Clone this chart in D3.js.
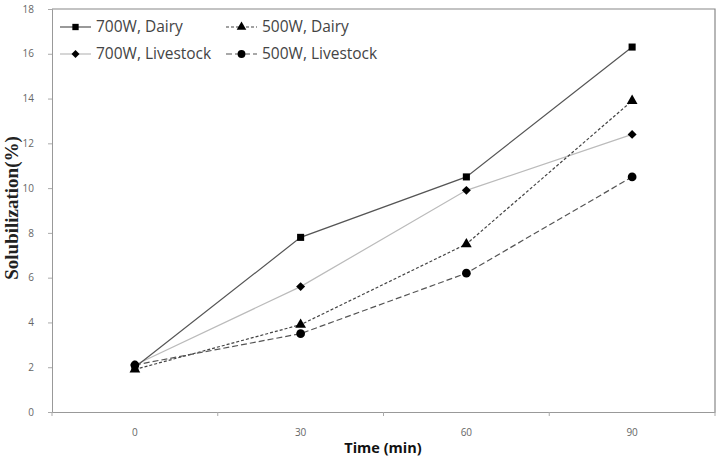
<!DOCTYPE html>
<html>
<head>
<meta charset="utf-8">
<script src="https://cdn.jsdelivr.net/npm/d3@7"></script>
<style>
body { margin: 0; background: #fff; }
</style>
</head>
<body>
<div class="chart"></div>
<script>
var width = 721
var height = 456

var times = ['0', '30', '60', '90']
var yTicks = [0, 2, 4, 6, 8, 10, 12, 14, 16, 18]
var seriesNames = ['700W, Dairy', '500W, Dairy', '700W, Livestock', '500W, Livestock']
var dairy700 = [2.0, 7.8, 10.5, 16.3]
var dairy500 = [1.9, 3.9, 7.5, 13.9]
var livestock700 = [2.1, 5.6, 9.9, 12.4]
var livestock500 = [2.1, 3.5, 6.2, 10.5]

var styles = [
    { color: '#555', dash: null, width: 1.2, symbol: d3.symbolSquare, size: 50, rot: 0 },
    { color: '#444', dash: '3,2', width: 1.2, symbol: d3.symbolTriangle, size: 50, rot: 0 },
    { color: '#bbb', dash: null, width: 1.2, symbol: d3.symbolSquare, size: 40, rot: 45 },
    { color: '#555', dash: '6,3', width: 1.2, symbol: d3.symbolCircle, size: 60, rot: 0 }
]
var allSeries = [dairy700, dairy500, livestock700, livestock500]

var margin = { left: 52, right: 6, top: 9, bottom: 44 }

var svg = d3.select('.chart').append('svg')
    .attr('width', width)
    .attr('height', height)

var x = d3.scaleBand().domain(times).range([margin.left, width - margin.right])
var y = d3.scaleLinear().domain([0, 18]).range([height - margin.bottom, margin.top])

// frame: top and right
svg.append('path')
    .attr('d', 'M' + margin.left + ',' + y(18) + 'H' + (width - margin.right) + 'V' + y(0))
    .attr('fill', 'none')
    .attr('stroke', '#888')
    .attr('stroke-width', 1.2)

var yAxis = svg.append('g')
    .attr('transform', 'translate(' + margin.left + ',0)')
    .call(d3.axisLeft(y).tickValues(yTicks).tickSize(4).tickPadding(14))
yAxis.select('.domain').attr('stroke', '#999')
yAxis.selectAll('.tick line').attr('stroke', '#aaa')
yAxis.selectAll('text').attr('fill', '#666').style('font-family', 'Open Sans').style('font-size', '10px')

// x axis with ticks at band boundaries
var xAxis = svg.append('g')
    .attr('transform', 'translate(0,' + y(0) + ')')
    .call(d3.axisBottom(x).tickSize(0).tickPadding(17))
xAxis.select('.domain').attr('stroke', '#999')
xAxis.selectAll('text').attr('fill', '#666').style('font-family', 'Open Sans').style('font-size', '10px')
svg.append('g').selectAll('line')
    .data(times.concat(['end']))
    .enter().append('line')
    .attr('x1', function (d, i) { return i < times.length ? x(d) : x(times[times.length - 1]) + x.bandwidth() })
    .attr('x2', function (d, i) { return i < times.length ? x(d) : x(times[times.length - 1]) + x.bandwidth() })
    .attr('y1', y(0))
    .attr('y2', y(0) + 4)
    .attr('stroke', '#aaa')

var cx = function (i) { return x(times[i]) + x.bandwidth() / 2 }

var line = d3.line()
    .x(function (d, i) { return cx(i) })
    .y(function (d) { return y(d) })

// draw light series first so dark lines sit on top
var order = [2, 0, 1, 3]
order.forEach(function (s) {
    var st = styles[s]
    svg.append('path')
        .datum(allSeries[s])
        .attr('d', line)
        .attr('fill', 'none')
        .attr('stroke', st.color)
        .attr('stroke-width', st.width)
        .attr('stroke-dasharray', st.dash)
})
order.forEach(function (s) {
    var st = styles[s]
    svg.append('g').selectAll('path')
        .data(allSeries[s])
        .enter().append('path')
        .attr('d', d3.symbol().type(st.symbol).size(st.size))
        .attr('transform', function (d, i) { return 'translate(' + cx(i) + ',' + y(d) + ') rotate(' + st.rot + ')' })
        .attr('fill', '#000')
})

// legend
var legendPos = [[60, 27], [226, 27], [60, 54], [226, 54]]
seriesNames.forEach(function (name, s) {
    var st = styles[s]
    var g = svg.append('g').attr('transform', 'translate(' + legendPos[s][0] + ',' + legendPos[s][1] + ')')
    g.append('line')
        .attr('x1', 0).attr('x2', 31).attr('y1', 0).attr('y2', 0)
        .attr('stroke', st.color)
        .attr('stroke-width', st.width)
        .attr('stroke-dasharray', st.dash)
    g.append('path')
        .attr('d', d3.symbol().type(st.symbol).size(st.size * 0.8))
        .attr('transform', 'translate(15.5,0) rotate(' + st.rot + ')')
        .attr('fill', '#000')
    g.append('text')
        .attr('x', 36)
        .attr('dy', '0.35em')
        .attr('fill', '#444')
        .style('font-family', 'Open Sans')
        .style('font-size', '15.5px')
        .text(name)
})

// axis titles
svg.append('text')
    .attr('transform', 'translate(18,' + 208 + ') rotate(-90)')
    .attr('text-anchor', 'middle')
    .attr('fill', '#222')
    .style('font-family', 'Liberation Serif')
    .style('font-weight', 'bold')
    .style('font-size', '19px')
    .text('Solubilization(%)')

svg.append('text')
    .attr('x', 383)
    .attr('y', 453)
    .attr('text-anchor', 'middle')
    .attr('fill', '#111')
    .style('font-family', 'Open Sans')
    .style('font-weight', 'bold')
    .style('font-size', '14.5px')
    .text('Time (min)')
</script>
</body>
</html>
